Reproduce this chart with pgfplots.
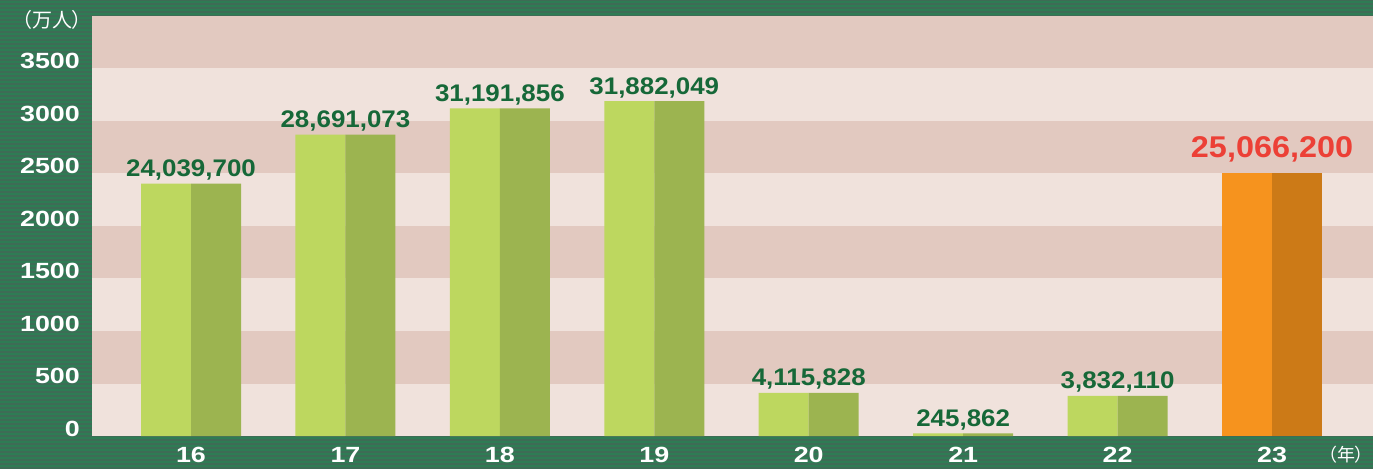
\documentclass[border=0pt]{standalone}
\usepackage{fontspec}
\usepackage{pgfplots}
\pgfplotsset{compat=1.18}
\setmainfont{Liberation Sans}
\newfontfamily\ticf[FakeStretch=1.22]{Liberation Sans}
\newfontfamily\labf[FakeStretch=1.08]{Liberation Sans}
\newfontfamily\cjk[RawFeature=+palt]{Noto Sans CJK JP}
\definecolor{bggreen}{RGB}{46,124,84}
\definecolor{stripe}{RGB}{62,108,86}
\definecolor{banddark}{RGB}{226,201,192}
\definecolor{bandlight}{RGB}{240,226,220}
\definecolor{lgreen}{RGB}{189,215,95}
\definecolor{dgreen}{RGB}{156,180,80}
\definecolor{lorange}{RGB}{246,147,30}
\definecolor{dorange}{RGB}{204,122,23}
\definecolor{labgreen}{RGB}{22,104,56}
\definecolor{labred}{RGB}{236,64,54}
\begin{document}
\begin{tikzpicture}[x=1pt,y=1pt]
\useasboundingbox (0,0) rectangle (1373,469);
\fill[bggreen] (0,0) rectangle (1373,469);
\foreach \k in {0,...,117} \draw[stripe, line width=1.3pt] (0,\k*4+1) -- (1373,\k*4+1);
\foreach \k in {0,...,7} {
  \pgfmathsetmacro{\ya}{33+52.5*\k}
  \pgfmathsetmacro{\yb}{33+52.5*(\k+1)}
  \ifodd\k
    \fill[banddark] (92,\ya) rectangle (1373,\yb);
  \else
    \fill[bandlight] (92,\ya) rectangle (1373,\yb);
  \fi
}
\node[text=white, font=\cjk\fontsize{20}{22}\selectfont, anchor=center] at (52,449) {（万人）};
\node[text=white, font=\cjk\fontsize{18}{20}\selectfont, anchor=center] at (1346,14) {（年）};
\begin{axis}[
  at={(191pt,33pt)}, anchor=origin,
  scale only axis, width=1281pt, height=420pt,
  ybar, clip=false,
  xmin=-0.641, xmax=7.654, ymin=0, ymax=4000,
  axis line style={draw=none}, major tick length=0pt,
  xtick={0,...,7}, xticklabels={16,17,18,19,20,21,22,23},
  ytick={0,500,...,3500},
  /pgf/number format/1000 sep={},
  /pgf/number format/assume math mode=true,
  tick label style={font=\ticf\bfseries\fontsize{22}{24}\selectfont, text=white, inner sep=0pt},
  yticklabel style={anchor=base east, xshift=-12pt},
  xticklabel style={anchor=base, yshift=-26pt},
  bar width=50pt,
]
\addplot[fill=lgreen, draw=none, bar shift=-25pt] coordinates {(0,2403.97) (1,2869.1073) (2,3119.1856) (3,3188.2049) (4,411.5828) (5,24.5862) (6,383.211)};
\addplot[fill=dgreen, draw=none, bar shift=25pt] coordinates {(0,2403.97) (1,2869.1073) (2,3119.1856) (3,3188.2049) (4,411.5828) (5,24.5862) (6,383.211)};
\addplot[fill=lorange, draw=none, bar shift=-25pt] coordinates {(7,2506.62)};
\addplot[fill=dorange, draw=none, bar shift=25pt] coordinates {(7,2506.62)};
\addplot[draw=none, fill=none, bar shift=0pt, point meta=explicit symbolic,
  nodes near coords,
  nodes near coords style={font=\labf\bfseries\fontsize{24}{26}\selectfont, text=labgreen, anchor=base, yshift=7pt, inner sep=0pt}]
  table[meta=lab] {
x y lab
0 2403.97 24,039,700
1 2869.1073 28,691,073
2 3119.1856 31,191,856
3 3188.2049 31,882,049
4 411.5828 4,115,828
5 24.5862 245,862
6 383.211 3,832,110
};
\addplot[draw=none, fill=none, bar shift=0pt, point meta=explicit symbolic,
  nodes near coords,
  nodes near coords style={font=\labf\bfseries\fontsize{30}{32}\selectfont, text=labred, anchor=base, yshift=15pt, inner sep=0pt}]
  table[meta=lab] {
x y lab
7 2506.62 25,066,200
};
\end{axis}
\end{tikzpicture}
\end{document}
